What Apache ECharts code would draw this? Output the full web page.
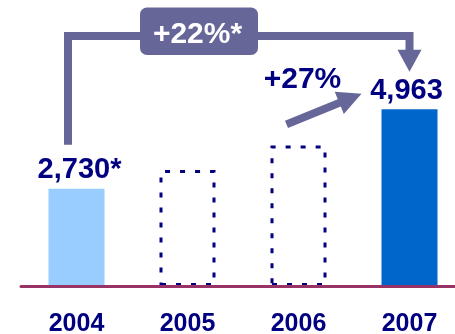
<!DOCTYPE html>
<html><head><meta charset="utf-8">
<script src="https://cdn.jsdelivr.net/npm/echarts@6/dist/echarts.min.js"></script>
<style>html,body{margin:0;padding:0;background:#fff}#c{width:455px;height:334px}</style>
</head><body><div id="c"></div>
<script>
var years = ['2004', '2005', '2006', '2007'];
var values = [2730, 3260, 3950, 4963];
var valueLabels = ['2,730*', '', '', '4,963'];
var estimated = [false, true, true, false];
var growthAll = '+22%*';
var growthLast = '+27%';

var NAVY = '#000080', SLATE = '#666699', FONT = 'Arial, "Liberation Sans", sans-serif';
var fills = ['#99CCFF', null, null, '#0066CC'];
var labelShift = [3, 0, 0, -3];

var chart = echarts.init(document.getElementById('c'), null, {renderer: 'canvas'});
var data = values.map(function (v, i) {
  var item = {value: v, label: {show: !!valueLabels[i], formatter: valueLabels[i], offset: [labelShift[i], 0]}};
  if (estimated[i]) {
    item.itemStyle = {color: 'rgba(0,0,0,0)', borderColor: NAVY, borderWidth: 3, borderType: [5, 10]};
  } else {
    item.itemStyle = {color: fills[i]};
  }
  return item;
});
chart.setOption({
  animation: false,
  grid: {left: 21, width: 444, top: 108, height: 178, outerBoundsMode: 'none', containLabel: false},
  xAxis: {type: 'category', data: years, z: 5,
    axisLine: {lineStyle: {color: '#993366', width: 3}},
    axisTick: {show: false},
    axisLabel: {color: NAVY, fontFamily: FONT, fontWeight: 'bold', fontSize: 25, margin: 38, verticalAlign: 'middle'}},
  yAxis: {type: 'value', min: 0, max: 5000, show: false, splitLine: {show: false}},
  series: [{type: 'bar', data: data, barWidth: 56,
    label: {position: 'top', distance: 4, color: NAVY, fontFamily: FONT, fontWeight: 'bold', fontSize: 29}}]
});

var p0 = chart.convertToPixel({seriesIndex: 0}, [0, values[0]]);
var p2 = chart.convertToPixel({seriesIndex: 0}, [2, values[2]]);
var p3 = chart.convertToPixel({seriesIndex: 0}, [3, values[3]]);
var topY = 36;
var bx = p0[0] - 8.5, bBottom = p0[1] - 44;
var rx = p3[0], tipY = p3[1] - 37.5;

// +27% arrow
var tail = [p2[0] - 12, p2[1] - 21], tip = [p3[0] - 48, p3[1] - 15.5];
var dx = tip[0] - tail[0], dy = tip[1] - tail[1], L = Math.sqrt(dx * dx + dy * dy);
var ux = dx / L, uy = dy / L, nx = -uy, ny = ux;
var hl = 24, hw = 12, sw = 4;
var bc = [tip[0] - ux * hl, tip[1] - uy * hl];
var arrowPts = [
  [tail[0] + nx * sw, tail[1] + ny * sw],
  [bc[0] + nx * sw, bc[1] + ny * sw],
  [bc[0] + nx * hw, bc[1] + ny * hw],
  tip,
  [bc[0] - nx * hw, bc[1] - ny * hw],
  [bc[0] - nx * sw, bc[1] - ny * sw],
  [tail[0] - nx * sw, tail[1] - ny * sw]
];

chart.setOption({graphic: [
  {type: 'polyline', shape: {points: [[bx, bBottom], [bx, topY], [rx, topY], [rx, tipY - 18]]},
    style: {stroke: SLATE, lineWidth: 8, fill: null, lineJoin: 'miter'}, z: 10},
  {type: 'polygon', shape: {points: [[rx - 12, tipY - 22], [rx + 12, tipY - 22], [rx, tipY]]}, style: {fill: SLATE}, z: 10},
  {type: 'rect', shape: {x: 140, y: 7.5, width: 118, height: 47.5, r: 7}, style: {fill: SLATE}, z: 11},
  {type: 'text', x: 197.5, y: 35, style: {text: growthAll, fill: '#fff', font: 'bold 30px ' + FONT, textAlign: 'center', textVerticalAlign: 'middle'}, z: 12},
  {type: 'polygon', shape: {points: arrowPts}, style: {fill: SLATE}, z: 10},
  {type: 'text', x: 302.5, y: 80, style: {text: growthLast, fill: NAVY, font: 'bold 30px ' + FONT, textAlign: 'center', textVerticalAlign: 'middle'}, z: 12}
]});
</script></body></html>
